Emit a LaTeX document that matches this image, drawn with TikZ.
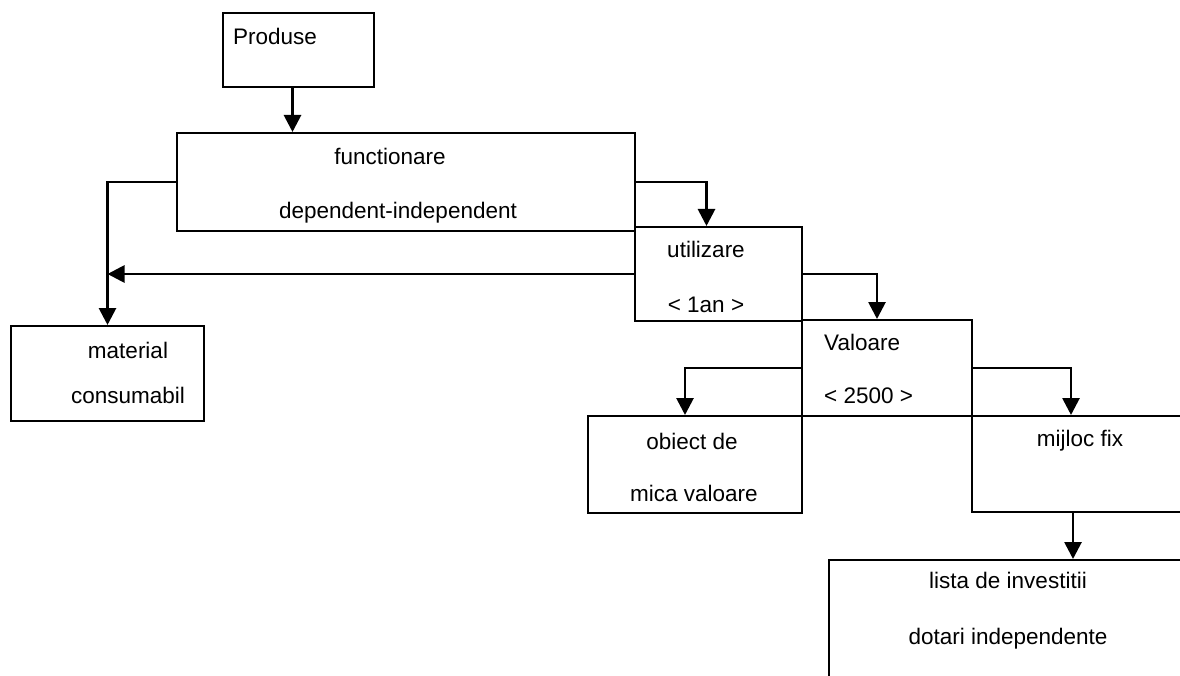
\documentclass[tikz,border=0pt]{standalone}
\usepackage{fontspec}
\setmainfont{Liberation Sans}
\usetikzlibrary{arrows.meta}
\tikzset{
  box/.style={draw=black, line width=2pt, rectangle, inner sep=0pt, anchor=north west},
  lbl/.style={inner sep=0pt, anchor=base, font=\fontsize{22.5}{27}\selectfont},
  lbll/.style={lbl, anchor=base west},
  arr/.style={draw=black, line width=2.8pt, -{Triangle[width=17pt,length=17pt]}},
}
\begin{document}
\begin{tikzpicture}[x=1pt,y=-1pt]
\useasboundingbox (0,0) rectangle (1180,676);
% boxes
\node[box, minimum width=151pt, minimum height=74pt] (prod) at (222,12) {};
\node[box, minimum width=458pt, minimum height=98pt] (func) at (176,132) {};
\node[box, minimum width=167pt, minimum height=94pt] (util) at (634,226) {};
\node[box, minimum width=170pt, minimum height=96pt] (val) at (801,319) {};
\node[box, minimum width=214pt, minimum height=97pt] (obj) at (587,415) {};
\node[box, minimum width=214pt, minimum height=96pt] (mij) at (971,415) {};
\node[box, minimum width=193pt, minimum height=95pt] (mat) at (10,325) {};
\node[box, minimum width=360pt, minimum height=125pt] (lista) at (828,559) {};
% texts
\node[lbll] (tprod) at (233,45) {Produse};
\node[lbl] (tfunc1) at (390,165) {functionare};
\node[lbl] (tfunc2) at (398,219) {dependent-independent};
\node[lbl] (tutil1) at (706,258) {utilizare};
\node[lbl] (tutil2) at (706,312) {< 1an >};
\node[lbll] (tval1) at (824,350) {Valoare};
\node[lbll] (tval2) at (824,403) {< 2500 >};
\node[lbl] (tobj1) at (692,449) {obiect de};
\node[lbl] (tobj2) at (694,501) {mica valoare};
\node[lbl] (tmij) at (1080,446) {mijloc fix};
\node[lbl] (tmat1) at (128,358) {material};
\node[lbl] (tmat2) at (128,403) {consumabil};
\node[lbl] (tlista1) at (1008,588) {lista de investitii};
\node[lbl] (tlista2) at (1008,644) {dotari independente};
% connectors
\draw[arr] ([xshift=-6pt]prod.south) -- ([xshift=-6pt]prod.south |- func.north);
\draw[arr] (func.west) -| (mat.north);
\draw[arr] (util.west) -- (util.west -| mat.north);
\draw[arr] (func.east) -| ([xshift=-12pt]util.north);
\draw[arr] (util.east) -| ([xshift=-10pt]val.north);
\draw[arr] (val.west) -| ([xshift=-10pt]obj.north);
\draw[arr] (val.east) -| ([xshift=-8pt]mij.north);
\draw[arr] ([xshift=-6pt]mij.south) -- ([xshift=-6pt]mij.south |- lista.north);
\end{tikzpicture}
\end{document}
